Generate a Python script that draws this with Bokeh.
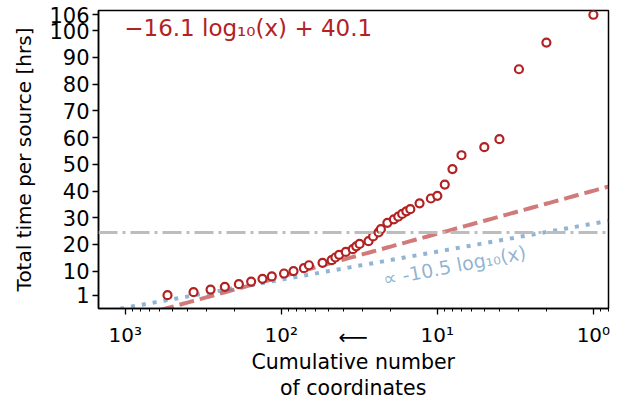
import numpy as np
from bokeh.plotting import figure
from bokeh.models import Range1d, FixedTicker, Label, Span, LogAxis
from bokeh.embed import file_html
from bokeh.resources import INLINE

# ---- data ----
n_coords = [536, 365, 284, 230, 187, 156, 132, 115, 96, 83.5, 71.6, 66.5, 54.4,
            47.6, 45, 42.6, 38.6, 34.8, 33.1, 31.5, 27.6, 25.8, 23.8, 23.0, 20.9,
            19.0, 17.8, 16.8, 15.8, 14.9, 13.0, 11.0, 10.0, 8.96, 8.0, 7.0, 5.0,
            4.0, 3.0, 2.0, 1.0]
hours = [1, 2.1, 3.1, 4.1, 5.1, 6.1, 7.1, 8.0, 9.1, 10.0, 11.1, 12.2, 13.1,
         14.1, 15.1, 16.1, 17.2, 18.2, 19.3, 20.2, 21.2, 23.0, 24.5, 25.7, 28.1,
         29.4, 30.4, 31.4, 32.4, 33.2, 35.4, 37.2, 38.2, 42.4, 48.2, 53.4, 56.4,
         59.4, 85.6, 95.6, 106]
fit_slope, fit_icpt = -16.1, 40.1
ref_slope, ref_icpt = -10.5, 27.8
threshold = 24.5
y_ticks = [1, 10, 20, 30, 40, 50, 60, 70, 80, 90, 100, 106]
x_ticks = [1000, 100, 10, 1]
x_tick_labels = ["10³", "10²", "10¹", "10⁰"]
fit_label = "−16.1 log₁₀(x) + 40.1"
ref_label = "∝ -10.5 log₁₀(x)"
x_label = "⟵\nCumulative number\nof coordinates"
y_label = "Total time per source [hrs]"

FONT = "DejaVu Sans"
RED = "#b22222"
BLUE = "steelblue"

p = figure(width=625, height=402, x_axis_type="log",
           x_range=Range1d(1484, 0.8), y_range=Range1d(-4, 107.6),
           output_backend="svg", toolbar_location=None,
           min_border_left=98, min_border_right=17, min_border_top=10,
           min_border_bottom=93)
p.grid.visible = False
p.outline_line_color = "black"
p.outline_line_width = 1.5
p.background_fill_color = "white"
p.border_fill_color = "white"

# threshold line
p.add_layout(Span(location=threshold, dimension="width", line_color="#bdbdbd",
                  line_width=3, line_dash="19 5 3 5"))

xs = np.logspace(np.log10(1484), np.log10(0.8), 200)
p.line(xs, fit_slope * np.log10(xs) + fit_icpt, line_color=RED, line_alpha=0.6,
       line_width=4, line_dash="15 6")
p.line(xs, ref_slope * np.log10(xs) + ref_icpt, line_color=BLUE, line_alpha=0.6,
       line_width=4, line_dash="4 7")

p.scatter(n_coords, hours, marker="circle", size=8, fill_color="white",
          line_color=RED, line_width=2.2)

p.add_layout(Label(x=1015, y=101.2, text=fit_label, text_color=RED,
                   text_font=FONT, text_font_size="23px",
                   text_baseline="alphabetic"))
p.add_layout(Label(x=22.2, y=7.0, text=ref_label, text_color=BLUE, text_alpha=0.6,
                   text_font=FONT, text_font_size="19px", angle=0.19,
                   text_baseline="alphabetic"))

# main axes
for ax in (p.xaxis[0], p.yaxis[0]):
    ax.axis_line_width = 1.5
    ax.major_tick_line_width = 1.3
    ax.minor_tick_line_width = 1.0
    ax.major_tick_out = 6
    ax.major_tick_in = 0
    ax.minor_tick_out = 3
    ax.minor_tick_in = 0
    ax.major_label_text_font = FONT
    ax.major_label_text_color = "black"
    ax.axis_label_text_font = FONT
    ax.axis_label_text_font_style = "normal"
    ax.axis_label_text_color = "black"

minor = [m * 10 ** e for e in range(-1, 4) for m in range(2, 10)]
p.xaxis.ticker = FixedTicker(ticks=x_ticks, minor_ticks=minor)
p.xaxis.major_label_overrides = {t: l for t, l in zip(x_ticks, x_tick_labels)}
p.xaxis.major_label_text_font_size = "20px"
p.xaxis.major_label_standoff = 8

# second (invisible) bottom axis carrying the arrow and the x label, centred
label_pos = 34.6
ax2 = LogAxis(ticker=FixedTicker(ticks=[label_pos], minor_ticks=[]),
              major_label_overrides={label_pos: x_label},
              axis_line_alpha=0, major_tick_out=0, major_tick_in=0,
              minor_tick_out=0, minor_tick_in=0,
              major_label_text_font=FONT, major_label_text_font_size="20.5px",
              major_label_text_color="black", major_label_standoff=-25,
              major_label_text_line_height=1.07)
p.add_layout(ax2, "below")

p.yaxis.ticker = FixedTicker(ticks=y_ticks, minor_ticks=[])
p.yaxis.major_label_text_font_size = "21px"
p.yaxis.major_label_standoff = 3
p.yaxis.axis_label = y_label
p.yaxis.axis_label_text_font_size = "20px"
p.yaxis.axis_label_standoff = 10

open("out.html", "w").write(file_html(p, INLINE))
